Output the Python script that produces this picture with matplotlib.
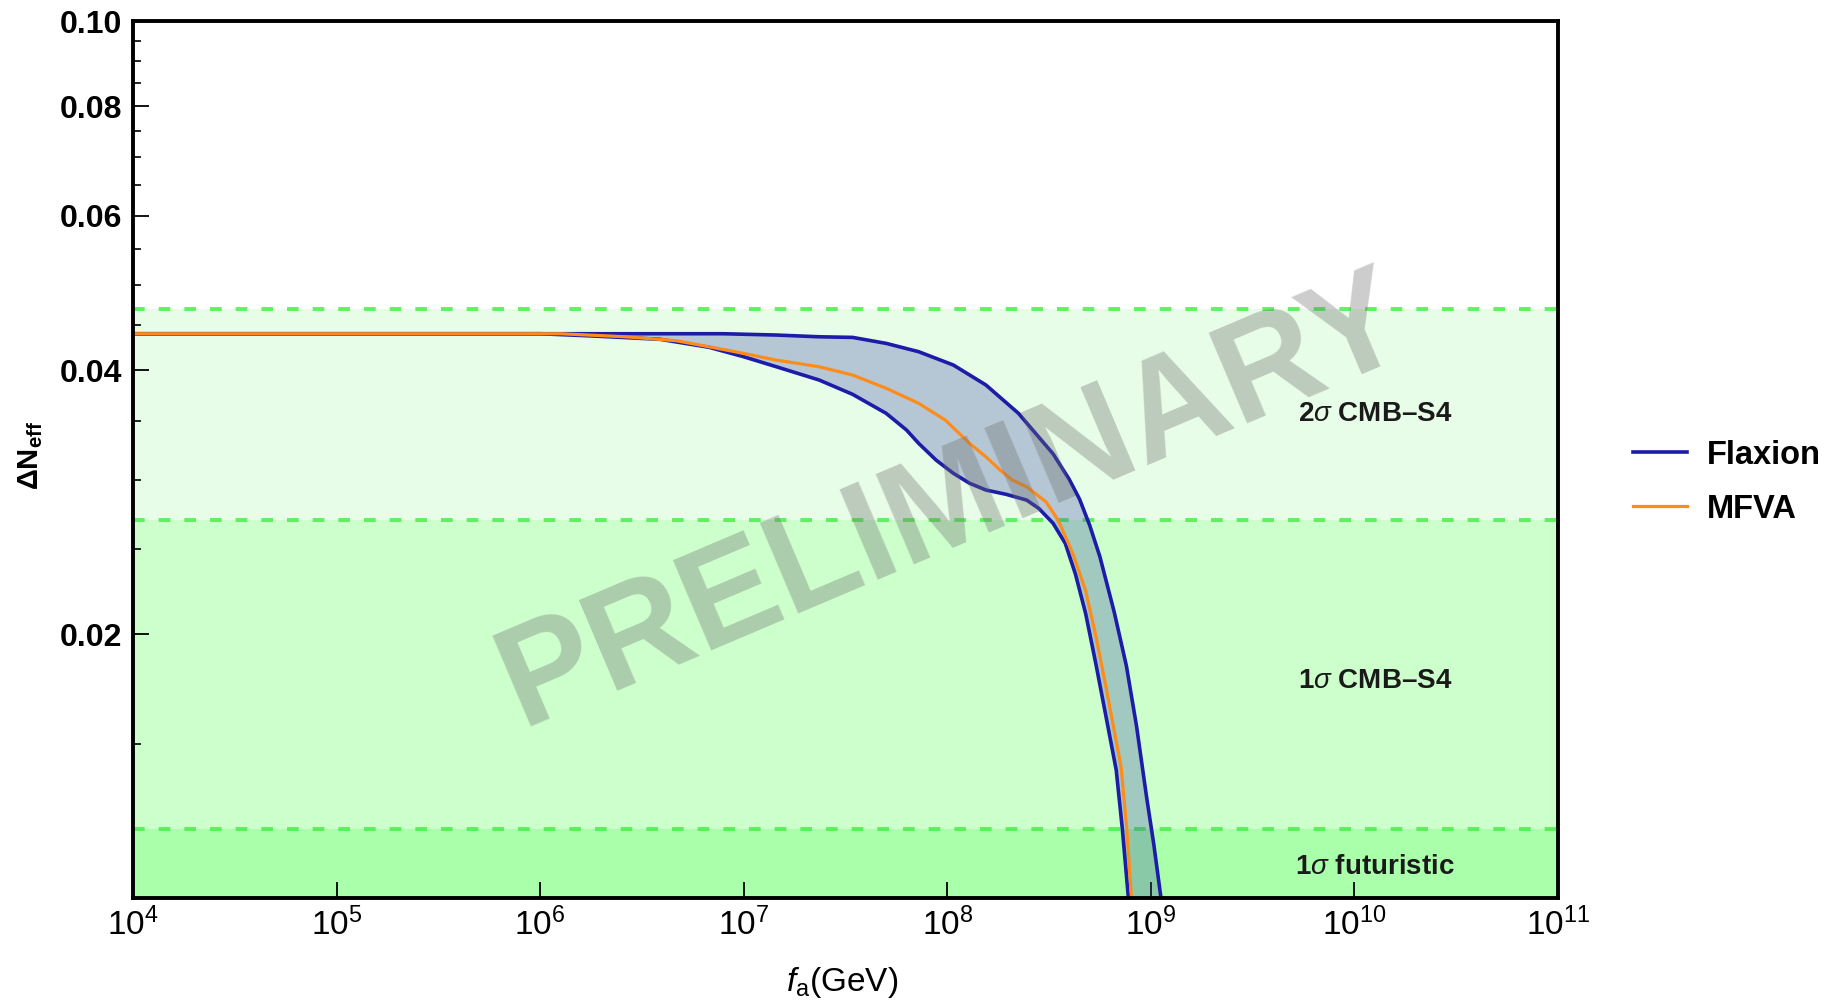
import numpy as np
import matplotlib
matplotlib.use('Agg')
import matplotlib.pyplot as plt
from matplotlib.ticker import FixedLocator, NullLocator, FixedFormatter

plt.rcParams['font.family'] = ['Liberation Sans', 'DejaVu Sans']
plt.rcParams['mathtext.fontset'] = 'custom'
plt.rcParams['mathtext.rm'] = 'Liberation Sans'
plt.rcParams['mathtext.it'] = 'Liberation Sans:italic'
plt.rcParams['mathtext.bf'] = 'Liberation Sans:bold'

# ---------------- data ----------------
# Flaxion band: upper edge
flaxion_upper_logfa = [4.0, 6.0, 6.9, 7.16, 7.37, 7.535, 7.70, 7.86, 8.03, 8.19,
                       8.35, 8.52, 8.60, 8.65, 8.70, 8.75, 8.82, 8.88, 8.93, 8.98,
                       9.015, 9.05]
flaxion_upper_dn = [0.0440, 0.0440, 0.0440, 0.04385, 0.04365, 0.04358, 0.04290, 0.04197,
                    0.04053, 0.03846, 0.03570, 0.03210, 0.03000, 0.02850, 0.02660,
                    0.02450, 0.02120, 0.01840, 0.01570, 0.01300, 0.01150, 0.01000]
# Flaxion band: lower edge
flaxion_lower_logfa = [4.0, 6.0, 6.26, 6.59, 6.83, 7.00, 7.16, 7.37, 7.535, 7.70, 7.80,
                       7.86, 7.945, 8.03, 8.11, 8.19, 8.29, 8.39, 8.45, 8.52, 8.58,
                       8.63, 8.68, 8.73, 8.78, 8.83, 8.86, 8.89]
flaxion_lower_dn = [0.0440, 0.0440, 0.04374, 0.04336, 0.04246, 0.04142, 0.04035, 0.03897,
                    0.03753, 0.03570, 0.03417, 0.03299, 0.03158, 0.03050, 0.02971,
                    0.02919, 0.02886, 0.02843, 0.02781, 0.02675, 0.02537, 0.02340,
                    0.02110, 0.01850, 0.01610, 0.01400, 0.01200, 0.01000]
# MFVA curve
mfva_logfa = [4.0, 6.1, 6.42, 6.67, 6.83, 7.00, 7.16, 7.37, 7.535, 7.70, 7.86, 7.99,
              8.11, 8.19, 8.26, 8.32, 8.39, 8.485, 8.534, 8.56, 8.62, 8.68, 8.73,
              8.78, 8.854, 8.882, 8.905]
mfva_dn = [0.0440, 0.0440, 0.04365, 0.04320, 0.04252, 0.04179, 0.04106, 0.04035,
           0.03948, 0.03813, 0.03665, 0.03508, 0.03299, 0.03185, 0.03076, 0.02996,
           0.02944, 0.02830, 0.02721, 0.02650, 0.02460, 0.02240, 0.01990, 0.01740,
           0.01411, 0.01200, 0.01000]

# sensitivity bands
band_edges = [0.047, 0.027, 0.012]
band_labels = ['2$\\sigma$ CMB\u2013S4', '1$\\sigma$ CMB\u2013S4', '1$\\sigma$ futuristic']
band_label_y = [0.0356, 0.0177, 0.01085]
band_label_logx = 10.1

y_major = [0.02, 0.04, 0.06, 0.08, 0.10]
y_major_labels = ['0.02', '0.04', '0.06', '0.08', '0.10']
y_minor = [0.015, 0.025, 0.03, 0.035, 0.045, 0.05, 0.055, 0.065, 0.07, 0.075,
           0.085, 0.09, 0.095]
x_decades = [4, 5, 6, 7, 8, 9, 10, 11]

# ---------------- styling ----------------
band_colors = ['#e8fde8', '#ccffcc', '#aaffaa']
dash_color = '#48ee48'
blue = '#1c1ca8'
orange = '#ff8c1a'

fig = plt.figure(figsize=(18.29, 10.07), dpi=100)
ax = fig.add_axes([0.0727, 0.1082, 0.7791, 0.8709])
ax.set_xscale('log')
ax.set_yscale('log')
ax.set_xlim(1e4, 1e11)
ax.set_ylim(0.01, 0.10)

for edge, col in zip(band_edges, band_colors):
    ax.axhspan(0.01, edge, color=col, lw=0, zorder=0)
for edge in band_edges:
    ax.axhline(edge, color=dash_color, lw=2.8, ls=(0, (3.0, 3.6)), alpha=0.85, zorder=1)

for lab, yy in zip(band_labels, band_label_y):
    ax.text(10 ** band_label_logx, yy, lab, ha='center', va='center',
            fontsize=20, fontweight='bold', color='#1a1a1a', zorder=3)

xu = 10 ** np.array(flaxion_upper_logfa)
xl = 10 ** np.array(flaxion_lower_logfa)
ax.fill(np.concatenate([xu, xl[::-1]]),
        np.concatenate([flaxion_upper_dn, flaxion_lower_dn[::-1]]),
        facecolor=(0.25, 0.30, 0.65), alpha=0.30, lw=0, zorder=2)
ax.plot(xu, flaxion_upper_dn, color=blue, lw=2.6, label='Flaxion', zorder=4,
        solid_joinstyle='round')
ax.plot(xl, flaxion_lower_dn, color=blue, lw=2.6, zorder=4, solid_joinstyle='round')
ax.plot(10 ** np.array(mfva_logfa), mfva_dn, color=orange, lw=2.3, label='MFVA', zorder=5,
        solid_joinstyle='round')

# watermark
ax.text(10 ** 8.10, 0.0258, 'PRELIMINARY', rotation=23, rotation_mode='anchor',
        ha='center', va='baseline', fontsize=102, fontweight='bold',
        color=(0.43, 0.43, 0.43), alpha=0.35, zorder=10)

# axes styling
for s in ax.spines.values():
    s.set_linewidth(2.8)
    s.set_zorder(12)

ax.xaxis.set_major_locator(FixedLocator([10.0 ** d for d in x_decades]))
ax.xaxis.set_major_formatter(FixedFormatter(['$10^{%d}$' % d for d in x_decades]))
ax.xaxis.set_minor_locator(NullLocator())
ax.yaxis.set_major_locator(FixedLocator(y_major))
ax.yaxis.set_major_formatter(FixedFormatter(y_major_labels))
ax.yaxis.set_minor_locator(FixedLocator(y_minor))
ax.yaxis.set_minor_formatter(FixedFormatter([''] * len(y_minor)))

ax.tick_params(axis='both', which='major', direction='in', length=11.5, width=1.3,
               top=False, right=False, zorder=12)
ax.tick_params(axis='y', which='minor', direction='in', length=5.8, width=1.2, right=False)
ax.tick_params(axis='y', which='major', labelsize=23, pad=8)
ax.tick_params(axis='x', which='major', labelsize=24, pad=7)
for t in ax.get_yticklabels():
    t.set_fontweight('bold')

ax.set_xlabel('$f_{\\mathrm{a}}$(GeV)', fontsize=24)
ax.xaxis.set_label_coords(0.4975, -0.076)
ax.set_ylabel('\u0394N$_{\\mathbf{eff}}$', fontsize=21, fontweight='bold')
ax.yaxis.set_label_coords(-0.0615, 0.505)

ax.legend(loc='center left', bbox_to_anchor=(1.0526, 0.474), frameon=False,
          borderpad=0, borderaxespad=0, handlelength=1.66, handletextpad=0.6,
          labelspacing=0.7, prop={'size': 23.5, 'weight': 'bold'})

fig.savefig('out.png', dpi=100)
